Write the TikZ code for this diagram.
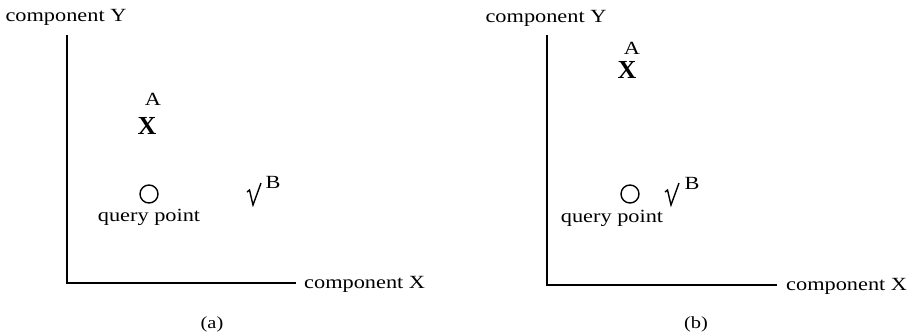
\documentclass[tikz,border=0pt]{standalone}
\usepackage{fontspec}
\setmainfont[FakeStretch=1.2]{Liberation Serif}
\newfontfamily\plainserif{Liberation Serif}
\begin{document}
\begin{tikzpicture}[x=1pt,y=-1pt,
  lbl/.style={font=\fontsize{18.6}{20}\selectfont, inner sep=0pt},
  axis/.style={line width=1.5pt},
  qp/.style={circle, draw, line width=1.4pt, minimum size=18pt, inner sep=0pt},
  xmark/.style={font=\plainserif\fontsize{26}{26}\selectfont\bfseries, inner sep=0pt},
  chk/.style={line width=1.4pt, line join=miter},
  captxt/.style={font=\fontsize{17}{18}\selectfont, inner sep=0pt}]
\useasboundingbox (0,0) rectangle (909,335);
% panel (a)
\coordinate (aTop) at (67,35);
\coordinate (aO) at (67,283);
\coordinate (aRight) at (296,283);
\draw[axis] (aTop) -- (aO) -- (aRight);
\node[lbl] (aY) at (66,17) {component Y};
\node[lbl, anchor=west] (aX) at (304,284) {component X};
\node[lbl] (aA) at (153,99) {A};
\node[xmark] (aXm) at (147,126) {X};
\node[qp] (aQ) at (149,194) {};
\node[lbl] (aQl) at (149,217) {query point};
\coordinate (aB) at (247,192);
\draw[chk] (aB) -- ++(2.5,-2) -- ++(3.5,15) -- ++(8,-22);
\node[lbl] (aBl) at (273,182) {B};
\node[captxt] (aCap) at (212,324) {(a)};
% panel (b)
\coordinate (bTop) at (547,35);
\coordinate (bO) at (547,285);
\coordinate (bRight) at (777,285);
\draw[axis] (bTop) -- (bO) -- (bRight);
\node[lbl] (bY) at (546,18) {component Y};
\node[lbl, anchor=west] (bX) at (786,286) {component X};
\node[lbl] (bA) at (632,48) {A};
\node[xmark] (bXm) at (627,70) {X};
\node[qp] (bQ) at (630,194) {};
\node[lbl] (bQl) at (612,218) {query point};
\coordinate (bB) at (665,192);
\draw[chk] (bB) -- ++(2.5,-2) -- ++(3.5,15) -- ++(8,-22);
\node[lbl] (bBl) at (692,183) {B};
\node[captxt] (bCap) at (696,324) {(b)};
\end{tikzpicture}
\end{document}
